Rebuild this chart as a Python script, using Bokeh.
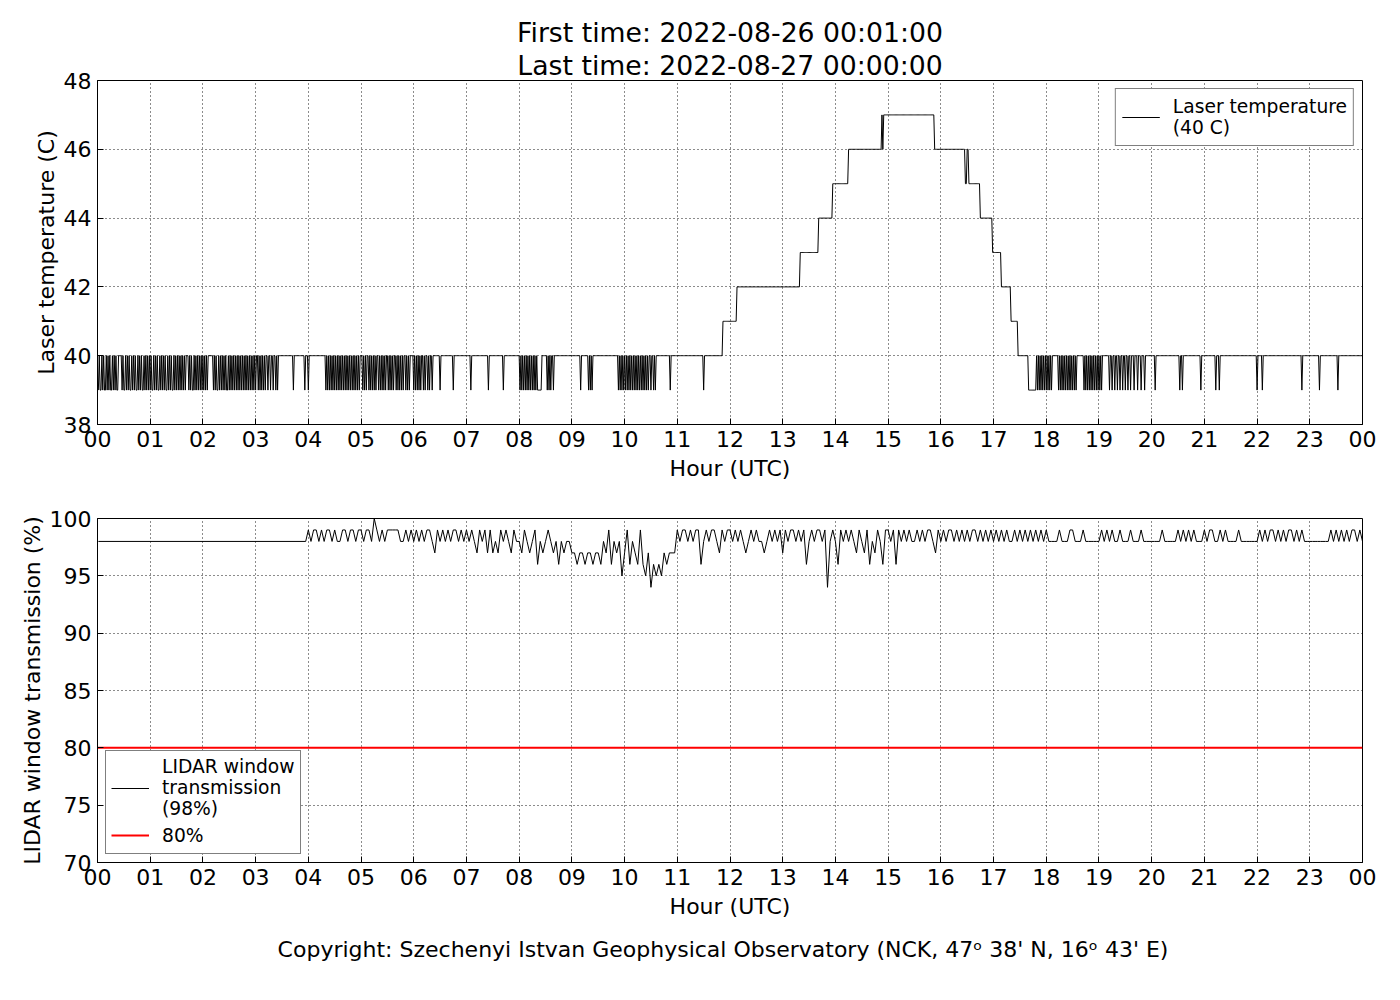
import numpy as np
from bokeh.plotting import figure
from bokeh.layouts import column
from bokeh.models import Range1d, FixedTicker, Title, Legend, LegendItem
from bokeh.embed import file_html
from bokeh.resources import INLINE

first_time = "2022-08-26 00:01:00"
last_time = "2022-08-27 00:00:00"
copyright_text = "Copyright: Szechenyi Istvan Geophysical Observatory (NCK, 47\u1d52  38' N, 16\u1d52  43' E)"

hour_ticks = [0, 1, 2, 3, 4, 5, 6, 7, 8, 9, 10, 11, 12, 13, 14, 15, 16, 17, 18, 19, 20, 21, 22, 23, 24]
hour_labels = ["00", "01", "02", "03", "04", "05", "06", "07", "08", "09", "10", "11", "12",
               "13", "14", "15", "16", "17", "18", "19", "20", "21", "22", "23", "00"]
temp_ticks = [38, 40, 42, 44, 46, 48]
trans_ticks = [70, 75, 80, 85, 90, 95, 100]

# ---- Laser temperature (1-minute samples, minutes after 00:00) ----
temp_base = 40
temp_low = 39
temp_low_minutes = [
    1, 3, 4, 6, 8, 9, 11, 13, 15, 16, 18, 20, 22, 23,
    28, 30, 31, 33, 35, 37, 38, 40, 42, 44, 45, 47, 49, 51, 52, 54, 56, 58,
    60, 62, 63, 65, 67, 69, 70, 72, 74, 76, 78, 79, 81, 83, 85, 86, 88, 90, 92, 94, 96, 98, 100,
    104, 106, 108, 109, 111, 113, 115, 117, 119, 121, 123, 125,
    132, 134, 136, 137, 139, 141, 143, 145, 147, 148, 150, 152, 154, 156, 158, 160, 162, 164,
    166, 168, 170, 172, 174, 176, 178, 180,
    183, 185, 187, 189, 191, 194, 197, 200, 203, 205,
    223, 236, 240,
    260, 262, 264, 266, 268, 270, 272, 274, 276, 278, 280, 282, 284, 286, 288, 290, 292, 294, 296, 298,
    302, 304, 306, 309, 311, 313, 315, 317, 320, 322, 324, 326, 328, 331, 333, 335, 337, 340, 342,
    344, 346, 348, 351, 353, 355,
    360, 362, 364, 366, 368, 371, 373, 376, 378, 381,
    390, 405, 425, 445, 462,
    481, 483, 485, 487, 489, 491, 493, 495, 497, 499, 501, 502, 503, 504, 505,
    512, 514, 516, 519,
    550, 559, 561, 563,
    593, 595, 597, 599, 601, 603, 605, 607, 609, 611, 613, 615, 617, 619, 621, 623, 625, 627, 630, 633, 635,
    652, 690,
    1070, 1072, 1074, 1076, 1078, 1080, 1082, 1084, 1086,
    1094, 1096, 1098, 1100, 1102, 1104, 1106, 1108, 1110, 1112, 1114,
    1123, 1125, 1127, 1129, 1131, 1133, 1135, 1137, 1139, 1141, 1143,
    1152, 1155, 1158, 1161, 1164, 1167, 1170, 1173, 1176, 1180, 1184, 1188, 1192,
    1204, 1232, 1235, 1256, 1273, 1277, 1320, 1326, 1371, 1391, 1412,
]
temp_step_minutes = [712, 728, 800, 821, 837, 855, 893, 894, 895, 953, 988, 990, 992,
                     1005, 1019, 1029, 1040, 1048, 1060, 1069]
temp_step_values = [41, 42, 43, 44, 45, 46, 47, 46, 47, 46, 45, 46, 45,
                    44, 43, 42, 41, 40, 39, 40]
temp_first_minute = 1
temp_last_minute = 1440

# ---- LIDAR window transmission (%), 3-minute samples from 04:00 ----
trans_flat_value = 98
trans_flat_hours = [1 / 60, 3.95]
trans_start_hour = 4.0
trans_step_hour = 0.05
trans_end_hour = 24.0
trans_04_08 = [99, 98, 99, 99, 98, 99, 98, 99, 99, 98, 99, 98, 98, 99, 99, 98, 99, 99, 98, 99,
               99, 98, 99, 99, 98, 100, 99, 98, 99, 98, 99, 99, 99, 99, 99, 98, 98, 99, 98, 99,
               98, 99, 98, 99, 98, 99, 99, 98, 97, 99, 98, 99, 98, 99, 98, 99, 99, 98, 99, 98,
               99, 98, 99, 98, 97, 99, 98, 99, 97, 99, 97, 98, 97, 99, 98, 99, 98, 97, 99, 98]
trans_08_12 = [98, 97, 99, 98, 97, 98, 99, 96, 98, 97, 98, 99, 98, 97, 98, 96, 98, 97, 98, 98,
               97, 97, 96, 97, 97, 96, 97, 97, 96, 97, 97, 96, 98, 97, 99, 96, 98, 97, 98, 95,
               97, 99, 96, 98, 97, 96, 99, 96, 95, 97, 94, 96, 95, 96, 95, 97, 96, 97, 97, 97,
               99, 98, 99, 99, 98, 99, 98, 99, 99, 96, 98, 99, 98, 99, 99, 98, 97, 99, 98, 99]
trans_12_16 = [99, 98, 99, 98, 99, 98, 97, 98, 99, 98, 99, 98, 98, 97, 98, 99, 98, 99, 98, 99,
               97, 99, 98, 99, 99, 98, 99, 98, 99, 96, 98, 99, 98, 99, 99, 98, 99, 94, 98, 99,
               98, 96, 99, 98, 99, 98, 99, 98, 97, 99, 98, 97, 99, 96, 98, 97, 99, 98, 96, 99,
               99, 98, 99, 96, 99, 98, 99, 98, 99, 98, 98, 99, 98, 99, 98, 99, 99, 98, 97, 99]
trans_16_20 = [98, 99, 98, 99, 99, 98, 99, 98, 99, 98, 99, 98, 99, 99, 98, 99, 98, 99, 98, 99,
               98, 99, 98, 99, 98, 99, 98, 98, 99, 98, 99, 98, 99, 98, 99, 98, 99, 98, 99, 98,
               99, 98, 98, 98, 98, 99, 98, 98, 98, 99, 99, 98, 98, 98, 99, 98, 98, 98, 98, 98,
               98, 99, 98, 99, 98, 99, 98, 98, 99, 98, 98, 98, 99, 98, 98, 98, 99, 98, 98, 98]
trans_20_24 = [98, 98, 98, 98, 99, 98, 98, 98, 98, 98, 99, 98, 99, 98, 99, 98, 99, 98, 98, 98,
               99, 98, 99, 99, 98, 98, 99, 98, 99, 98, 98, 98, 98, 99, 98, 98, 98, 98, 98, 98,
               98, 99, 98, 99, 98, 99, 99, 98, 99, 98, 99, 98, 99, 99, 98, 99, 98, 99, 98, 98,
               98, 98, 98, 98, 98, 98, 98, 98, 99, 98, 99, 98, 99, 98, 99, 98, 99, 99, 98, 99]
trans_threshold = 80

# ---- build series ----
minutes = np.arange(temp_first_minute, temp_last_minute + 1)
temp = np.full(minutes.shape, float(temp_base))
for m, v in zip(temp_step_minutes, temp_step_values):
    temp[minutes >= m] = v
for m in temp_low_minutes:
    temp[minutes == m] = temp_low
temp_hours = minutes / 60.0

trans_vals = trans_04_08 + trans_08_12 + trans_12_16 + trans_16_20 + trans_20_24
trans_hours = list(trans_flat_hours) + [trans_start_hour + i * trans_step_hour for i in range(len(trans_vals))] + [trans_end_hour]
trans_y = [trans_flat_value] * len(trans_flat_hours) + trans_vals + [trans_flat_value]

FONT = "DejaVu Sans"
W = 1392


def style(p, yticks):
    p.outline_line_color = "black"
    p.outline_line_width = 1
    p.background_fill_color = "white"
    p.border_fill_color = "white"
    for ax in p.xaxis:
        ax.ticker = FixedTicker(ticks=hour_ticks)
        ax.major_label_overrides = {t: l for t, l in zip(hour_ticks, hour_labels)}
        ax.axis_label = "Hour (UTC)"
    for ax in p.yaxis:
        ax.ticker = FixedTicker(ticks=yticks)
    for ax in list(p.xaxis) + list(p.yaxis):
        ax.minor_tick_line_color = None
        ax.major_tick_in = 6
        ax.major_tick_out = 0
        ax.axis_line_color = "black"
        ax.major_tick_line_color = "black"
        ax.major_label_text_font = FONT
        ax.major_label_text_font_size = "22px"
        ax.major_label_text_color = "black"
        ax.major_label_standoff = 6
        ax.axis_label_text_font = FONT
        ax.axis_label_text_font_size = "22px"
        ax.axis_label_text_font_style = "normal"
        ax.axis_label_text_color = "black"
    for ax in p.xaxis:
        ax.axis_label_standoff = 6
    for ax in p.yaxis:
        ax.axis_label_standoff = 2
    for g in (p.xgrid, p.ygrid):
        g.grid_line_color = "black"
        g.grid_line_dash = "1 3"
        g.grid_line_width = 1
        g.grid_line_alpha = 0.9
    p.xgrid.ticker = FixedTicker(ticks=hour_ticks)
    p.ygrid.ticker = FixedTicker(ticks=yticks)


# ---- top figure ----
p1 = figure(width=W, height=498, output_backend="svg", toolbar_location=None,
            x_range=Range1d(0, 24), y_range=Range1d(38, 48),
            min_border_left=97, min_border_right=30, min_border_top=80, min_border_bottom=74)
p1.yaxis.axis_label = "Laser temperature (C)"
style(p1, temp_ticks)
r_temp = p1.line(temp_hours, temp, line_color="black", line_width=1)
p1.add_layout(Title(text="Last time: " + last_time, align="center", text_font=FONT,
                    text_font_size="26.7px", text_font_style="normal", text_color="black",
                    standoff=0), "above")
p1.add_layout(Title(text="First time: " + first_time, align="center", text_font=FONT,
                    text_font_size="26.7px", text_font_style="normal", text_color="black",
                    standoff=0), "above")
leg1 = Legend(items=[LegendItem(label="Laser temperature\n(40 C)", renderers=[r_temp])],
              location="top_right", border_line_color="black", border_line_width=1,
              label_text_font=FONT, label_text_font_size="18.7px", label_text_color="black",
              glyph_width=38, glyph_height=44, label_standoff=13,
              margin=8, padding=6, background_fill_alpha=1)
p1.add_layout(leg1)

# ---- bottom figure ----
p2 = figure(width=W, height=494, output_backend="svg", toolbar_location=None,
            x_range=Range1d(0, 24), y_range=Range1d(70, 100),
            min_border_left=97, min_border_right=30, min_border_top=20, min_border_bottom=130)
p2.yaxis.axis_label = "LIDAR window transmission (%)"
style(p2, trans_ticks)
r_trans = p2.line(trans_hours, trans_y, line_color="black", line_width=1)
r_thr = p2.line([hour_ticks[0], hour_ticks[-1]], [trans_threshold, trans_threshold],
                line_color="red", line_width=2)
p2.add_layout(Title(text=copyright_text, align="center", text_font=FONT,
                    text_font_size="22px", text_font_style="normal", text_color="black",
                    standoff=26), "below")
leg2 = Legend(items=[LegendItem(label="LIDAR window\ntransmission\n(98%)", renderers=[r_trans]),
                     LegendItem(label="80%", renderers=[r_thr])],
              location="bottom_left", border_line_color="black", border_line_width=1,
              label_text_font=FONT, label_text_font_size="18.7px", label_text_color="black",
              glyph_width=38, glyph_height=26, label_standoff=13,
              margin=8, padding=5, background_fill_alpha=1)
p2.add_layout(leg2)

layout = column(p1, p2, spacing=0)
open("out.html", "w").write(file_html(layout, INLINE))
